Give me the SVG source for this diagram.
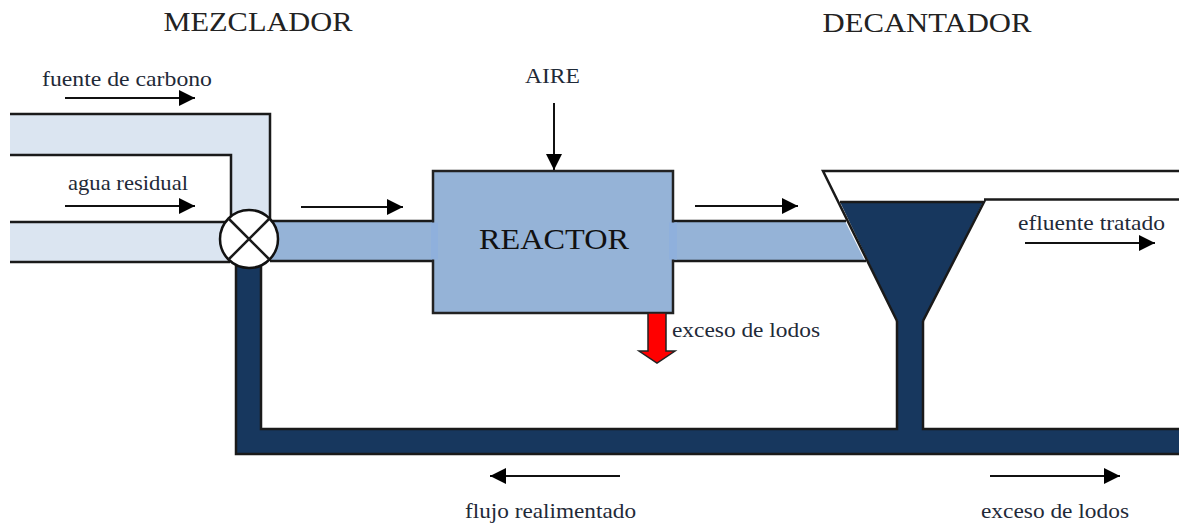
<svg xmlns="http://www.w3.org/2000/svg" width="1179" height="525" viewBox="0 0 1179 525">
<style>
text{font-family:"Liberation Serif","Times New Roman",serif;fill:#1f2a38}
.s{font-size:21px}
.h{font-size:27px;fill:#222}
.l{fill:none;stroke:#1a1a1a;stroke-width:2.5}
.a{fill:none;stroke:#111;stroke-width:2;marker-end:url(#ah)}
.d{fill:#17375e}
.p{fill:#8fb0dc}
</style>
<defs>
<marker id="ah" markerUnits="userSpaceOnUse" markerWidth="17" markerHeight="16" refX="16" refY="8" orient="auto"><path d="M0 0L16 8L0 16Z" fill="#000"/></marker>
</defs>
<rect width="1179" height="525" fill="#fff"/>
<g id="labels">
<text class="h" x="258" y="31" text-anchor="middle" textLength="189" lengthAdjust="spacingAndGlyphs">MEZCLADOR</text>
<text class="h" x="927" y="32" text-anchor="middle" textLength="209" lengthAdjust="spacingAndGlyphs">DECANTADOR</text>
<text class="s" x="42" y="86" textLength="170" lengthAdjust="spacingAndGlyphs">fuente de carbono</text>
<text class="s" x="68" y="190" textLength="120" lengthAdjust="spacingAndGlyphs">agua residual</text>
<text class="s" x="525" y="83" textLength="55" lengthAdjust="spacingAndGlyphs">AIRE</text>
<text class="s" x="672" y="337" textLength="148" lengthAdjust="spacingAndGlyphs">exceso de lodos</text>
<text class="s" x="1018" y="230" textLength="147" lengthAdjust="spacingAndGlyphs">efluente tratado</text>
<text class="s" x="465" y="518" textLength="171" lengthAdjust="spacingAndGlyphs">flujo realimentado</text>
<text class="s" x="981" y="518" textLength="148" lengthAdjust="spacingAndGlyphs">exceso de lodos</text>
</g>
<g id="pipe-carbono">
<path d="M10 114H270V225H231V155H10Z" fill="#dbe5f1"/>
<path class="l" d="M10 114H270V225M10 155H231V225"/>
</g>
<g id="pipe-agua">
<rect x="10" y="222" width="225" height="40" fill="#dbe5f1"/>
<path class="l" d="M10 222H230M10 262H230"/>
</g>
<g id="pipe-reactor-in">
<rect x="265" y="221" width="170" height="40" fill="#95b3d7"/>
<path class="l" d="M270 221H433M270 261H433"/>
</g>
<g id="pipe-reactor-out">
<path d="M673 221H845L865 261H673Z" fill="#95b3d7"/>
<path class="l" d="M673 221H846M673 261H866"/>
</g>
<g id="recycle-pipe">
<path class="d" d="M236 258H261V429H897V321H923V429H1179V454H236Z"/>
<path class="l" d="M236 262V454H1179M261 262V429H897V321M923 321V429H1179"/>
</g>
<g id="reactor">
<rect x="433" y="171" width="240" height="142" fill="#95b3d7" stroke="#222" stroke-width="2.5"/>
<rect class="p" x="431" y="222.500" width="7" height="37"/>
<rect class="p" x="669" y="222.500" width="8" height="37"/>
<text x="554" y="249" text-anchor="middle" font-size="29" textLength="150" lengthAdjust="spacingAndGlyphs" style="fill:#111">REACTOR</text>
</g>
<g id="decantador">
<path class="d" d="M840 202H983L923 321H897Z"/>
<path class="l" d="M1179 171H823L897 321M840 202H984L923 321M984 199.500H1179"/>
</g>
<g id="mixer">
<circle cx="249" cy="239" r="29" fill="#fff" stroke="#111" stroke-width="2.500"/>
<path class="l" d="M228.500 218.500L269.500 259.500M269.500 218.500L228.500 259.500"/>
</g>
<g id="sludge-arrow">
<path d="M648 313H666V351H675L657 363L639 351H648Z" fill="#f00" stroke="#222" stroke-width="1.500"/>
</g>
<g id="connectors">
<path class="a" d="M65 98H195"/>
<path class="a" d="M65 206H195"/>
<path class="a" d="M554 103V170"/>
<path class="a" d="M301 207H403"/>
<path class="a" d="M695 206H798"/>
<path class="a" d="M1025 243H1155"/>
<path class="a" d="M620 476H490"/>
<path class="a" d="M990 476H1120"/>
</g>
</svg>
